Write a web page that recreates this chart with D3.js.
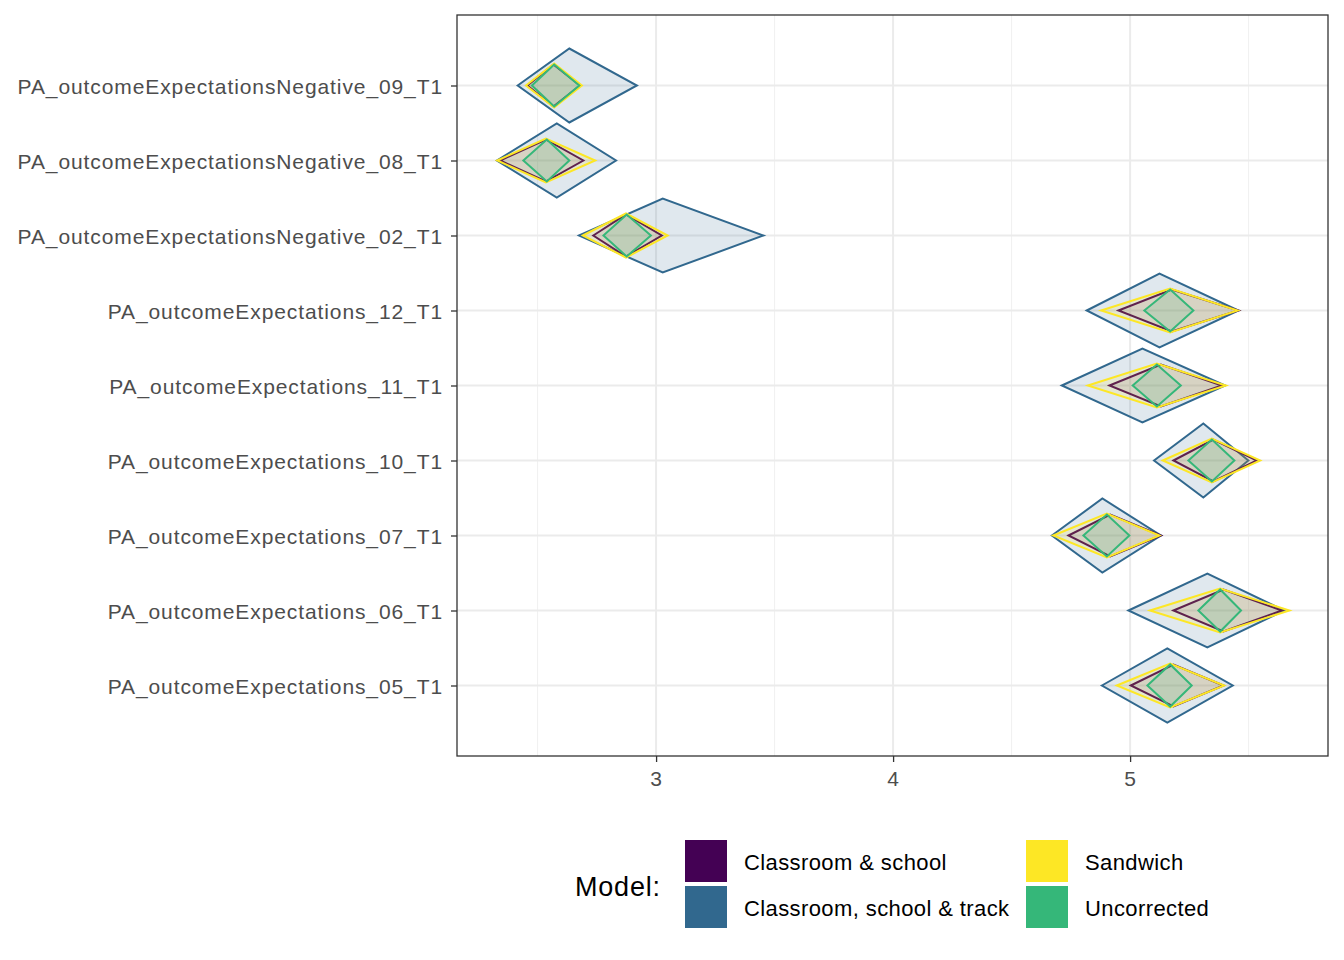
<!DOCTYPE html>
<html>
<head>
<meta charset="UTF-8">
<style>
  body { margin: 0; background: white; font-family: Arial, "Liberation Sans", sans-serif; }
</style>
</head>
<body>
<svg width="1344" height="960"></svg>
<script src="https://d3js.org/d3.v7.min.js"></script>
<script>
// items, top to bottom
let items = ["PA_outcomeExpectationsNegative_09_T1", "PA_outcomeExpectationsNegative_08_T1",
  "PA_outcomeExpectationsNegative_02_T1", "PA_outcomeExpectations_12_T1", "PA_outcomeExpectations_11_T1",
  "PA_outcomeExpectations_10_T1", "PA_outcomeExpectations_07_T1", "PA_outcomeExpectations_06_T1",
  "PA_outcomeExpectations_05_T1"];
let models = ["Classroom, school & track", "Classroom & school", "Sandwich", "Uncorrected"];
let colors = ["#31688E", "#440154", "#FDE725", "#35B779"];
let xTicks = [3, 4, 5];

// [lower, mean, upper] per item, per model
let trackCI = [[2.416,2.634,2.919],[2.328,2.581,2.831],[2.675,3.028,3.453],[4.817,5.124,5.457],[4.712,5.052,5.401],
  [5.101,5.309,5.499],[4.670,4.883,5.130],[4.993,5.326,5.650],[4.881,5.157,5.433]];
let schoolCI = [[2.457,2.567,2.679],[2.342,2.535,2.693],[2.735,2.873,3.024],[4.951,5.176,5.457],[4.913,5.130,5.387],
  [5.183,5.351,5.535],[4.740,4.916,5.130],[5.183,5.394,5.640],[5.003,5.183,5.394]];
let sandwichCI = [[2.451,2.570,2.687],[2.330,2.535,2.743],[2.691,2.873,3.049],[4.878,5.169,5.454],[4.822,5.113,5.404],
  [5.138,5.345,5.549],[4.676,4.902,5.124],[5.084,5.380,5.672],[4.944,5.169,5.397]];
let uncorrectedCI = [[2.476,2.570,2.676],[2.440,2.539,2.634],[2.778,2.876,2.978],[5.060,5.169,5.267],[5.011,5.113,5.214],
  [5.246,5.345,5.440],[4.803,4.902,4.997],[5.288,5.380,5.468],[5.073,5.169,5.260]];
let allCI = [trackCI, schoolCI, sandwichCI, uncorrectedCI];
let halfHeights = [37, 21, 22, 21];

let svg = d3.select("svg");
let L = 457, R = 1328, T = 15, B = 756;

let x = d3.scaleLinear().domain([2.16, 5.835]).range([L, R]);
let y = d3.scalePoint().domain(items).range([T, B]).padding(0.94);

// grid
let grid = svg.append("g");
d3.range(2.5, 6, 1).forEach(v => {
  grid.append("line").attr("x1", x(v)).attr("x2", x(v)).attr("y1", T).attr("y2", B)
    .attr("stroke", "#f0f0f0").attr("stroke-width", 1);
});
xTicks.forEach(v => {
  grid.append("line").attr("x1", x(v)).attr("x2", x(v)).attr("y1", T).attr("y2", B)
    .attr("stroke", "#ebebeb").attr("stroke-width", 2);
});
items.forEach(d => {
  grid.append("line").attr("x1", L).attr("x2", R).attr("y1", y(d)).attr("y2", y(d))
    .attr("stroke", "#ebebeb").attr("stroke-width", 2);
});

// diamonds
allCI.forEach((ci, m) => {
  svg.append("g").selectAll("path").data(ci).enter().append("path")
    .attr("d", (d, i) => {
      let cy = y(items[i]), h = halfHeights[m];
      return `M${x(d[0])},${cy}L${x(d[1])},${cy - h}L${x(d[2])},${cy}L${x(d[1])},${cy + h}Z`;
    })
    .attr("fill", colors[m]).attr("fill-opacity", m == 1 ? 0.1 : 0.15)
    .attr("stroke", colors[m]).attr("stroke-width", 2);
});

// panel border
svg.append("rect").attr("x", L).attr("y", T).attr("width", R - L).attr("height", B - T)
  .attr("fill", "none").attr("stroke", "#333").attr("stroke-width", 1.3);

// axes
let xAxis = svg.append("g").attr("transform", `translate(0,${B})`)
  .call(d3.axisBottom(x).tickValues(xTicks).tickFormat(d3.format("d")).tickSize(6).tickPadding(9));
let yAxis = svg.append("g").attr("transform", `translate(${L},0)`)
  .call(d3.axisLeft(y).tickSize(6).tickPadding(8));
[xAxis, yAxis].forEach(a => {
  a.select(".domain").remove();
  a.selectAll(".tick line").attr("stroke", "#333").attr("stroke-width", 1.3);
  a.selectAll("text").attr("fill", "#4d4d4d").style("font-size", "21px")
    .style("letter-spacing", "0.9px")
    .style("font-family", "Arial, 'Liberation Sans', sans-serif");
});
yAxis.selectAll("text").attr("dy", "0.4em");

// legend
let legendOrder = [["Classroom & school", "#440154"], ["Classroom, school & track", "#31688E"],
  ["Sandwich", "#FDE725"], ["Uncorrected", "#35B779"]];
svg.append("text").attr("x", 575).attr("y", 896).style("font-size", "27px")
  .style("letter-spacing", "0.8px").attr("fill", "black").text("Model:");
legendOrder.forEach((d, i) => {
  let col = Math.floor(i / 2), row = i % 2;
  let kx = col ? 1026 : 685, ky = 840 + row * 46;
  svg.append("rect").attr("x", kx).attr("y", ky).attr("width", 42).attr("height", 42).attr("fill", d[1]);
  svg.append("text").attr("x", kx + 59).attr("y", ky + 30).style("font-size", "22px")
    .style("letter-spacing", "0.4px").attr("fill", "black").text(d[0]);
});
</script>
</body>
</html>
